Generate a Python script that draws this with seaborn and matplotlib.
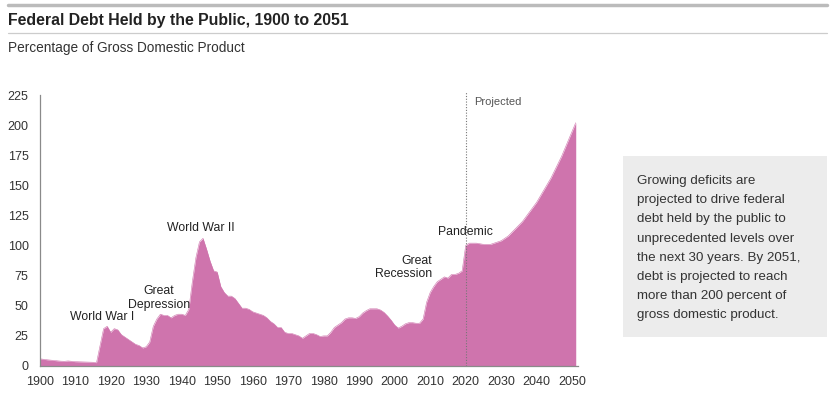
import numpy as np
import pandas as pd
import matplotlib
matplotlib.use("Agg")
import matplotlib.pyplot as plt
import seaborn as sns
from matplotlib.patches import Rectangle
from matplotlib.lines import Line2D

# Debt held by the public, % of GDP
years = list(range(1900, 2052))
debt_hist = [
    6.0, 5.6, 5.2, 4.9, 4.6, 4.3, 4.0, 3.9, 4.2, 3.9,   # 1900-1909
    3.6, 3.5, 3.4, 3.3, 3.2, 3.1, 2.8, 17.0, 31.0, 33.0,  # 1910-1919
    28.0, 31.0, 30.0, 26.0, 24.0, 22.0, 20.0, 18.0, 17.0, 15.0,  # 1920-1929
    16.0, 20.0, 33.0, 39.0, 43.0, 42.0, 42.0, 40.0, 42.0, 43.0,  # 1930-1939
    43.0, 42.0, 47.0, 70.0, 90.0, 103.0, 106.0, 97.0, 87.0, 79.0,  # 1940-1949
    78.0, 66.0, 61.0, 58.0, 58.0, 56.0, 52.0, 48.0, 48.0, 47.0,  # 1950-1959
    45.0, 44.0, 43.0, 42.0, 40.0, 37.0, 35.0, 32.0, 32.0, 28.0,  # 1960-1969
    27.0, 27.0, 26.0, 25.0, 23.0, 25.0, 27.0, 27.0, 26.0, 24.5,  # 1970-1979
    25.0, 25.0, 28.0, 32.0, 34.0, 36.0, 39.0, 40.0, 40.0, 39.5,  # 1980-1989
    41.0, 44.0, 46.0, 47.5, 47.5, 47.5, 46.5, 44.5, 41.5, 38.0,  # 1990-1999
    34.0, 31.5, 33.0, 35.0, 36.0, 36.0, 35.5, 35.5, 39.0, 53.0,  # 2000-2009
    61.0, 66.0, 70.0, 72.0, 74.0, 73.0, 76.0, 76.0, 77.0, 79.0,  # 2010-2019
    100.0,  # 2020
]
debt_proj = [
    102.0, 102.0, 102.0, 101.5, 101.0, 101.0, 101.0, 102.0, 103.0, 104.0,  # 2021-2030
    106.0, 108.0, 111.0, 114.0, 117.0, 120.0, 124.0, 128.0, 132.0, 136.0,  # 2031-2040
    141.0, 146.0, 151.0, 156.0, 162.0, 168.0, 174.0, 181.0, 188.0, 195.0,  # 2041-2050
    202.0,  # 2051
]
x_ticks = list(range(1900, 2051, 10))
y_ticks = list(range(0, 226, 25))

annotations = [
    ("World War I", 1917.5, 36, "center"),
    ("Great\nDepression", 1933.5, 46, "center"),
    ("World War II", 1945.5, 110, "center"),
    ("Great\nRecession", 2010.5, 71, "right"),
    ("Pandemic", 2020.0, 106, "center"),
]

df = pd.DataFrame({"year": years, "debt": debt_hist + debt_proj})

fill_color = "#CF74AD"

sns.set_theme(style="white")
plt.rcParams["font.family"] = ["Liberation Sans", "DejaVu Sans"]

fig = plt.figure(figsize=(8.35, 3.93), dpi=100)
W, H = 835, 393

def px(x, y):
    return x / W, 1 - y / H

ax = fig.add_axes([39.7 / W, 1 - 366 / H, (577.5 - 39.7) / W, (366 - 95) / H])

sns.lineplot(data=df, x="year", y="debt", ax=ax, color=fill_color, linewidth=0.4)
ax.fill_between(df["year"], df["debt"], 0, color=fill_color, linewidth=0)

ax.set_xlim(1900, 2051.5)
ax.set_ylim(0, 225)
ax.set_xticks(x_ticks)
ax.set_yticks(y_ticks)
ax.set_xlabel("")
ax.set_ylabel("")
for s in ["top", "right"]:
    ax.spines[s].set_visible(False)
for s in ["left", "bottom"]:
    ax.spines[s].set_color("#8a8a8a")
    ax.spines[s].set_linewidth(0.9)
ax.tick_params(axis="both", direction="in", length=4, width=0.8, color="#8a8a8a",
               labelsize=9, labelcolor="#333333")
ax.tick_params(axis="x", pad=7)
ax.tick_params(axis="y", pad=8)
ax.grid(False)

# projection marker
ax.axvline(2020.2, ymin=0, ymax=1.01, color="#777777", linestyle=(0, (1, 1.5)),
           linewidth=0.8, clip_on=False)
ax.text(2022.5, 219, "Projected", fontsize=8, color="#555555", va="center", ha="left")

for label, xa, ya, ha in annotations:
    ax.text(xa, ya, label, fontsize=8.8, color="#222222", ha=ha, va="bottom",
            linespacing=1.15)

# header
fig.add_artist(Line2D([8 / W, 827 / W], [1 - 5 / H, 1 - 5 / H], color="#bbbbbb", linewidth=2.5))
fig.add_artist(Line2D([8 / W, 827 / W], [1 - 33 / H, 1 - 33 / H], color="#cccccc", linewidth=0.9))
fig.text(*px(8, 20), "Federal Debt Held by the Public, 1900 to 2051", fontsize=11.4,
         fontweight="bold", color="#222222", va="center", ha="left")
fig.text(*px(8, 48), "Percentage of Gross Domestic Product", fontsize=9.8,
         color="#333333", va="center", ha="left")

# side note box
bx0, by0, bx1, by1 = 623, 156, 827, 337
fig.add_artist(Rectangle((bx0 / W, 1 - by1 / H), (bx1 - bx0) / W, (by1 - by0) / H,
                         transform=fig.transFigure, facecolor="#ececec", edgecolor="none"))
note = ("Growing deficits are\nprojected to drive federal\ndebt held by the public to\n"
        "unprecedented levels over\nthe next 30 years. By 2051,\ndebt is projected to reach\n"
        "more than 200 percent of\ngross domestic product.")
fig.text(*px(637, 175), note, fontsize=9.6, color="#333333", va="top", ha="left",
         linespacing=1.8)

fig.savefig("out.png", dpi=100)
